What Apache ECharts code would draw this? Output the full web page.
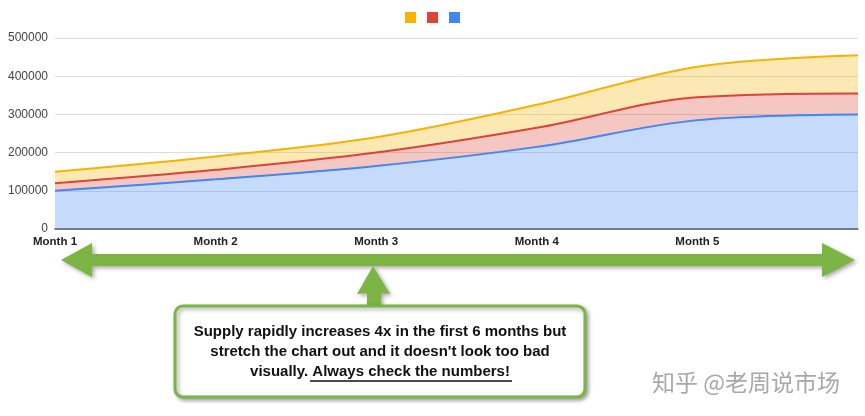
<!DOCTYPE html>
<html>
<head>
<meta charset="utf-8">
<script src="https://cdn.jsdelivr.net/npm/echarts@6/dist/echarts.min.js"></script>
<style>
  html, body { margin: 0; padding: 0; background: #fff; }
  #chart { width: 865px; height: 416px; }
</style>
</head>
<body>
<div id="chart"></div>
<script>
// data (each series on its own, stacked by echarts)
var months = ['Month 1', 'Month 2', 'Month 3', 'Month 4', 'Month 5', 'Month 6']
var blueValues = [100000, 130000, 165000, 215000, 285000, 300000]
var redValues = [20000, 25000, 35000, 50000, 60000, 55000]
var yellowValues = [30000, 35000, 40000, 60000, 80000, 100000]
var yTicks = [0, 100000, 200000, 300000, 400000, 500000]

var noteLines = [
  'Supply rapidly increases 4x in the first 6 months but',
  'stretch the chart out and it doesn\'t look too bad',
  'visually. Always check the numbers!'
]
var watermark = '知乎 @老周说市场'

var green = '#7DB544'
var shadow = {
  shadowBlur: 4,
  shadowColor: 'rgba(0,0,0,0.35)',
  shadowOffsetX: 2,
  shadowOffsetY: 2
}

function areaSeries(name, color, data) {
  return {
    name: name,
    type: 'line',
    stack: 'supply',
    smooth: 0.35,
    symbol: 'none',
    data: data,
    lineStyle: { color: color, width: 2 },
    itemStyle: { color: color },
    areaStyle: { color: color, opacity: 0.3 }
  }
}

var chart = echarts.init(document.getElementById('chart'))
chart.setOption({
  animation: false,
  textStyle: { fontFamily: 'Liberation Sans, Arial, sans-serif' },
  legend: {
    top: 7,
    left: 'center',
    icon: 'rect',
    itemWidth: 11,
    itemHeight: 11,
    itemGap: 11,
    selectedMode: false,
    data: ['Yellow', 'Red', 'Blue'],
    formatter: function() { return '' }
  },
  grid: { left: 55, right: 7, top: 38, bottom: 187 },
  xAxis: {
    type: 'category',
    data: months,
    boundaryGap: false,
    axisTick: { show: false },
    axisLine: { lineStyle: { color: '#555', width: 1.5 } },
    axisLabel: {
      margin: 7,
      color: '#222',
      fontWeight: 'bold',
      fontSize: 11.5,
      interval: 0,
      formatter: function(v, i) { return i === months.length - 1 ? '' : v }
    }
  },
  yAxis: {
    type: 'value',
    min: yTicks[0],
    max: yTicks[yTicks.length - 1],
    interval: yTicks[1] - yTicks[0],
    axisLine: { show: false },
    axisTick: { show: false },
    axisLabel: {
      color: '#444',
      fontSize: 12,
      margin: 7,
      formatter: function(v) { return String(v) }
    },
    splitLine: { lineStyle: { color: '#ddd' } }
  },
  series: [
    areaSeries('Blue', '#4285F4', blueValues),
    areaSeries('Red', '#DB4437', redValues),
    areaSeries('Yellow', '#F4B400', yellowValues)
  ],
  graphic: [
    {
      // long double-headed arrow under the axis
      type: 'polygon',
      shape: {
        points: [[61, 260], [92, 243], [92, 254], [822, 254], [822, 243],
          [855, 260], [822, 277], [822, 266], [92, 266], [92, 277]]
      },
      style: Object.assign({ fill: green }, shadow)
    },
    {
      // small arrow pointing up to the axis
      type: 'polygon',
      shape: {
        points: [[373, 266], [390, 294], [381, 293], [381, 312],
          [367, 312], [367, 293], [357, 294]]
      },
      style: Object.assign({ fill: green }, shadow)
    },
    {
      type: 'rect',
      shape: { x: 175, y: 306, width: 410, height: 91, r: 8 },
      style: Object.assign({ fill: '#fff', stroke: green, lineWidth: 3 }, shadow)
    },
    {
      type: 'text',
      x: 380,
      y: 352,
      style: {
        text: noteLines.join('\n'),
        align: 'center',
        verticalAlign: 'middle',
        font: 'bold 15px "Liberation Sans", Arial, sans-serif',
        lineHeight: 20,
        fill: '#111'
      }
    },
    {
      // underline for "Always check the numbers!"
      type: 'line',
      shape: { x1: 310, y1: 381, x2: 512, y2: 381 },
      style: { stroke: '#111', lineWidth: 1.3 }
    },
    {
      type: 'text',
      x: 652,
      y: 382,
      style: {
        text: watermark,
        verticalAlign: 'middle',
        font: '23px "Noto Sans CJK SC", sans-serif',
        fill: '#a8a8a8',
        shadowColor: 'rgba(255,255,255,0.9)',
        shadowOffsetX: 1,
        shadowOffsetY: 1
      }
    }
  ]
})
</script>
</body>
</html>
